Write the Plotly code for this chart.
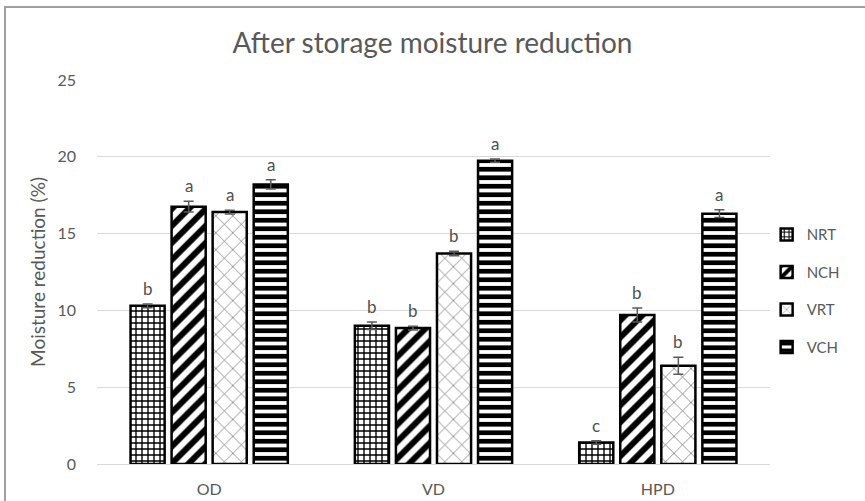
import plotly.graph_objects as go

# Drying methods (x groups) and storage treatments (series)
methods = ["OD", "VD", "HPD"]
treatments = ["NRT", "NCH", "VRT", "VCH"]

# Moisture reduction (%) per treatment, ordered OD, VD, HPD
nrt = [10.3, 9.0, 1.4]
nch = [16.75, 8.85, 9.7]
vrt = [16.4, 13.7, 6.4]
vch = [18.2, 19.75, 16.3]

# Standard errors
nrt_err = [0.12, 0.25, 0.12]
nch_err = [0.35, 0.12, 0.45]
vrt_err = [0.12, 0.15, 0.55]
vch_err = [0.3, 0.1, 0.25]

# Significance letters
nrt_sig = ["b", "b", "c"]
nch_sig = ["a", "b", "b"]
vrt_sig = ["a", "b", "b"]
vch_sig = ["a", "a", "a"]

values = [nrt, nch, vrt, vch]
errors = [nrt_err, nch_err, vrt_err, vch_err]
letters = [nrt_sig, nch_sig, vrt_sig, vch_sig]
patterns = ["+", "/", "x", "-"]
pattern_sizes = [6, 12, 12, 8.5]
pattern_solid = [0.4, 0.5, 0.1, 0.55]
pattern_colors = ["black", "black", "#555555", "black"]

TEXT = "#595959"
FONT = "Lato, Open Sans, sans-serif"

slot = 0.183       # horizontal slot per bar within a group
bar_w = 0.152      # drawn bar width

fig = go.Figure()
annotations = []
for j, name in enumerate(treatments):
    offset = (j - 1.5) * slot
    xs = [i + offset for i in range(len(methods))]
    fig.add_trace(go.Bar(
        x=xs, y=values[j], name=name, width=bar_w,
        legendgroup=name,
        marker=dict(
            color="white",
            line=dict(color="black", width=2.5),
            pattern=dict(shape=patterns[j], fgcolor=pattern_colors[j], bgcolor="white",
                         fgopacity=1, size=pattern_sizes[j],
                         solidity=pattern_solid[j], fillmode="replace"),
        ),
        error_y=dict(type="data", array=errors[j], color="#595959",
                     thickness=1.5, width=5),
    ))
    for i in range(len(methods)):
        annotations.append(dict(
            x=xs[i], y=values[j][i] + errors[j][i], xref="x", yref="y",
            text=letters[j][i], showarrow=False, yanchor="bottom", yshift=3,
            font=dict(size=17, color="#505050", family=FONT),
        ))

# Outer chart frame
frame = [dict(
    type="rect", xref="paper", yref="paper",
    x0=-0.1367, x1=1.16, y0=-0.13, y1=1.19,
    line=dict(color="#a0a0a0", width=2), fillcolor="rgba(0,0,0,0)", layer="below",
)]

fig.update_layout(
    width=865, height=501,
    margin=dict(l=97, r=95, t=80, b=37),
    paper_bgcolor="white", plot_bgcolor="white",
    barmode="overlay",
    title=dict(text="After storage moisture reduction", x=0.5, xanchor="center",
               y=0.913, yanchor="middle",
               font=dict(size=28, color=TEXT, family=FONT)),
    font=dict(family=FONT, color=TEXT),
    xaxis=dict(
        range=[-0.5, 2.5], tickmode="array",
        tickvals=list(range(len(methods))), ticktext=methods,
        showgrid=False, zeroline=False, showline=False, ticks="",
        ticklabelstandoff=14, automargin=False,
        tickfont=dict(size=16, color=TEXT),
    ),
    yaxis=dict(
        range=[0, 25], dtick=5, showgrid=True, gridcolor="#d9d9d9", gridwidth=1,
        zeroline=True, zerolinecolor="#d9d9d9", zerolinewidth=1,
        showline=False, ticks="", ticklabelstandoff=20, automargin=False,
        tickfont=dict(size=16, color=TEXT),
        title=dict(text="Moisture reduction (%)", standoff=6,
                   font=dict(size=19, color=TEXT)),
    ),
    legend=dict(
        x=0.995, xanchor="left", y=0.64, yanchor="top",
        font=dict(size=15, color=TEXT), tracegroupgap=15,
        itemwidth=30, bgcolor="rgba(0,0,0,0)",
    ),
    annotations=annotations,
    shapes=frame,
)

fig.write_html("out.html")
